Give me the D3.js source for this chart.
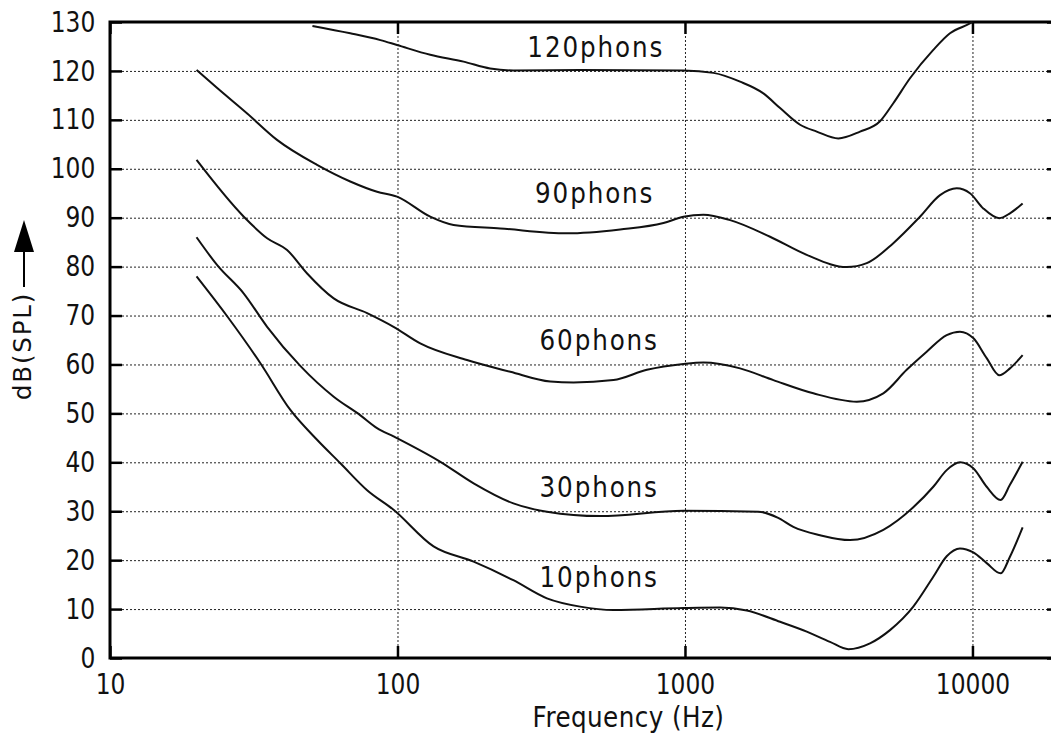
<!DOCTYPE html>
<html>
<head>
<meta charset="utf-8">
<script src="https://cdn.jsdelivr.net/npm/d3@7"></script>
<style>
  body { margin: 0; background: #fff; }
  svg { display: block; font-family: "DejaVu Sans", sans-serif; }
</style>
</head>
<body>
<div id="chart"></div>
<script>
// equal loudness contours, [frequency Hz, dB SPL]
var phon10 = [[20,78],[25.6,69.8],[33.4,60.2],[42.4,50.7],[52.5,44.6],[63.3,39.8],[78.4,34.3],[96.9,30.3],
  [133.5,22.8],[184,19.7],[253,15.9],[331,12.2],[432,10.5],[564,9.8],[988,10.2],[1325,10.3],[1641,9.7],
  [2142,7.4],[2652,5.4],[3195,3.3],[3700,1.8],[4402,3.0],[5166,5.7],[6226,10.5],[7308,16.6],[8136,20.8],
  [9049,22.4],[10065,21.6],[11206,19.4],[12531,17.3],[13503,20.7],[14946,26.7]];

var phon30 = [[20,86],[23.6,80.3],[29.2,74.5],[35.2,67.7],[45.9,59.7],[60,53.4],[74.3,49.6],[84.9,47.0],
  [96.9,45.3],[141,40.1],[184,35.7],[253,31.6],[331,29.9],[507,29.0],[988,30.1],[1800,29.9],[2100,28.7],
  [2382,26.8],[2951,25.1],[3751,24.1],[4897,26.2],[6226,30.8],[7308,35.0],[8136,38.4],[9049,40.0],
  [10065,38.8],[11206,35.0],[12531,32.3],[13503,35.4],[14946,40.1]];

var phon60 = [[20,101.8],[29.2,90.2],[35.2,85.8],[41.3,83.4],[48.5,78.6],[60,73.5],[78.4,70.5],[96.9,67.7],
  [120,64.3],[174.4,60.9],[246.8,58.5],[340,56.5],[409.6,56.3],[564,56.8],[737,58.9],[988,60.1],[1159,60.4],
  [1555,59.2],[2030,56.8],[2796,54.1],[3958,52.4],[4897,54.1],[5905,58.9],[6931,62.6],[8136,66.0],
  [9049,66.7],[10065,65.4],[11206,61.3],[12398,57.8],[13503,59.2],[14946,61.9]];

var phon90 = [[20,120.2],[23.6,116.5],[30,111.3],[38.1,105.9],[52.5,100.8],[68.5,97.4],[84.9,95.3],
  [99.6,94.3],[130,90.2],[156.7,88.5],[227.8,87.8],[388.5,86.8],[595,87.6],[841.7,88.9],[988,90.2],
  [1159,90.6],[1436,89.5],[1977,86.1],[2652,82.4],[3653,79.9],[4288,80.7],[5305,84.8],[6569,90.2],
  [7712,94.6],[8814,96.0],[9802,95.0],[10904,91.9],[12398,89.9],[13503,90.9],[14946,92.9]];

var phon120 = [[50.6,129.2],[68.5,127.7],[87.2,126.3],[99.6,125.3],[130,123.3],[169.8,121.9],[210,120.5],
  [253.3,120.1],[432,120.2],[988,120.1],[1256,119.6],[1555,117.8],[1874,115.4],[2142,112.4],[2514,109.0],
  [2873,107.6],[3416,106.2],[4064,107.6],[4769,109.7],[5305,113.4],[6064,118.5],[7308,124.3],
  [8353,127.7],[9802,129.7],[10000,130]];

var curves = [phon10, phon30, phon60, phon90, phon120];

// label text with [frequency, dB] of its left baseline point
var labels = [
  {t: "10phons", f: 312, v: 14.6},
  {t: "30phons", f: 312, v: 33.0},
  {t: "60phons", f: 312, v: 63.0},
  {t: "90phons", f: 301, v: 93.0},
  {t: "120phons", f: 283, v: 122.9}
];

var xTicks = [10, 100, 1000, 10000];
var yTicks = [0,10,20,30,40,50,60,70,80,90,100,110,120,130];

var svg = d3.select("#chart").append("svg")
  .attr("width", 1051)
  .attr("height", 742);

var x = d3.scaleLog().domain([10, 20000]).range([110, 1059]);
var y = d3.scaleLinear().domain([0, 130]).range([658, 22]);

// dotted grid
var grid = svg.append("g")
  .attr("stroke", "#222")
  .attr("stroke-width", 1)
  .attr("stroke-dasharray", "2,2");

grid.selectAll("line.h").data(yTicks.slice(1, -1)).enter().append("line")
  .attr("class", "h")
  .attr("x1", x(10)).attr("x2", x(20000))
  .attr("y1", function(d){ return y(d) + 0.5; })
  .attr("y2", function(d){ return y(d) + 0.5; });

grid.selectAll("line.v").data(xTicks.slice(1)).enter().append("line")
  .attr("class", "v")
  .attr("y1", y(0)).attr("y2", y(130))
  .attr("x1", function(d){ return x(d) + 0.5; })
  .attr("x2", function(d){ return x(d) + 0.5; });

// axes, ticks point inwards
var axL = svg.append("g")
  .attr("transform", "translate(" + x(10) + ",0)")
  .call(d3.axisLeft(y).tickValues(yTicks).tickSize(-12).tickSizeOuter(0).tickPadding(18));

var axR = svg.append("g")
  .attr("transform", "translate(" + x(20000) + ",0)")
  .call(d3.axisRight(y).tickValues(yTicks).tickSize(-12).tickSizeOuter(0).tickFormat(""));

var axB = svg.append("g")
  .attr("transform", "translate(0," + y(0) + ")")
  .call(d3.axisBottom(x).tickValues(xTicks).tickSize(-12).tickSizeOuter(0).tickPadding(16)
    .tickFormat(d3.format("d")));

var axT = svg.append("g")
  .attr("transform", "translate(0," + y(130) + ")")
  .call(d3.axisTop(x).tickValues(xTicks).tickSize(-12).tickSizeOuter(0).tickFormat(""));

[axL, axR, axB, axT].forEach(function(a){
  a.select(".domain").remove();
  a.selectAll(".tick line").attr("stroke", "#000").attr("stroke-width", 2.5);
  a.selectAll("text")
    .attr("fill", "#111")
    .attr("font-size", 28.5)
    .attr("font-family", "DejaVu Sans")
    .attr("transform", "scale(0.82,1)");
});

// frame
svg.append("rect")
  .attr("x", x(10)).attr("y", y(130))
  .attr("width", x(20000) - x(10))
  .attr("height", y(0) - y(130))
  .attr("fill", "none")
  .attr("stroke", "#000")
  .attr("stroke-width", 3);

// contours
var line = d3.line()
  .x(function(d){ return x(d[0]); })
  .y(function(d){ return y(d[1]); })
  .curve(d3.curveMonotoneX);

svg.append("g").selectAll("path").data(curves).enter().append("path")
  .attr("d", line)
  .attr("fill", "none")
  .attr("stroke", "#111")
  .attr("stroke-width", 2);

svg.append("g").selectAll("text").data(labels).enter().append("text")
  .attr("transform", function(d){
    return "translate(" + x(d.f) + "," + y(d.v) + ") scale(0.85,1)";
  })
  .attr("font-size", 29)
  .attr("letter-spacing", 2.2)
  .attr("fill", "#111")
  .text(function(d){ return d.t; });

// axis titles
svg.append("text")
  .attr("transform", "translate(" + ((x(10) + x(20000)) / 2 + 44) + ",727) scale(0.85,1)")
  .attr("text-anchor", "middle")
  .attr("font-size", 29)
  .attr("letter-spacing", 0.5)
  .attr("fill", "#111")
  .text("Frequency (Hz)");

svg.append("text")
  .attr("transform", "translate(31,400) rotate(-90)")
  .attr("font-size", 24.5)
  .attr("letter-spacing", 1.8)
  .attr("fill", "#111")
  .text("dB(SPL)");

svg.append("line")
  .attr("x1", 24).attr("x2", 24)
  .attr("y1", 287).attr("y2", 250)
  .attr("stroke", "#000")
  .attr("stroke-width", 2);

svg.append("path")
  .attr("d", "M24,220 L14,252 L34,252 Z")
  .attr("fill", "#000");
</script>
</body>
</html>
